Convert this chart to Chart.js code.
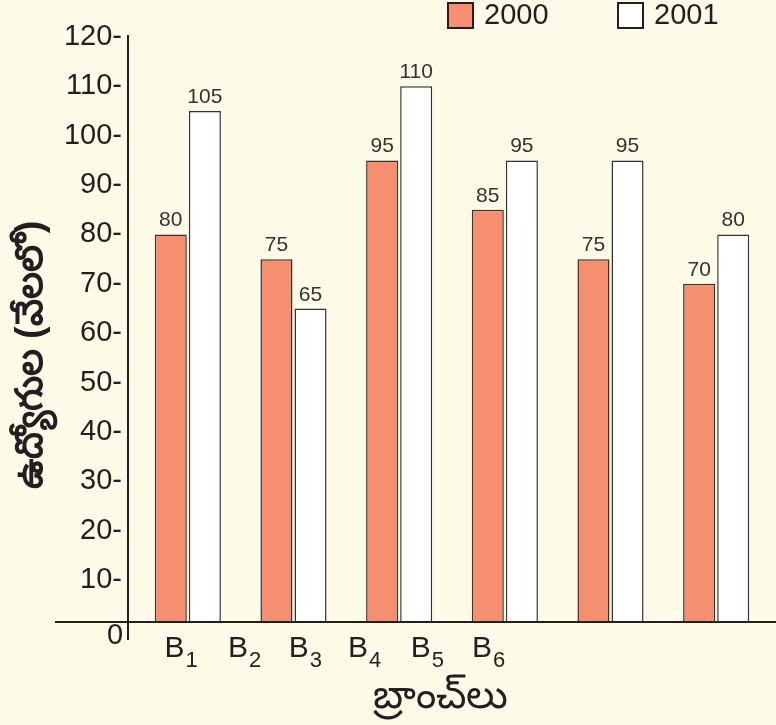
<!DOCTYPE html>
<html>
<head>
<meta charset="utf-8">
<script src="https://cdn.jsdelivr.net/npm/chart.js@4.4.1/dist/chart.umd.min.js"></script>
<style>
  html, body { margin: 0; padding: 0; background: #fefae8; }
  #wrap { width: 776px; height: 725px; }
</style>
</head>
<body>
<div id="wrap"><canvas id="chart" width="776" height="725"></canvas></div>
<script>
// chart data
const branches = ['B1', 'B2', 'B3', 'B4', 'B5', 'B6'];
const series2000 = [80, 75, 95, 85, 75, 70];
const series2001 = [105, 65, 110, 95, 95, 80];
const yTicks = [10, 20, 30, 40, 50, 60, 70, 80, 90, 100, 110, 120];
const branchLabels = [['B', '1'], ['B', '2'], ['B', '3'], ['B', '4'], ['B', '5'], ['B', '6']];
// where the branch labels sit, in category units (they are not under the bars in the original)
const branchLabelSlots = [-0.22, 0.38, 0.955, 1.515, 2.11, 2.69];
const yTitle = 'ఉద్యోగుల (వేలలో)';
const xTitle = 'బ్రాంచ్‌లు';

const INK = '#231f20';
const SALMON = '#f58f70';
const BG = '#fefae8';

// background, axis lines, titles, value labels, branch labels, legend
const decorations = {
  id: 'decorations',
  beforeDraw(chart) {
    const ctx = chart.ctx;
    ctx.save();
    ctx.fillStyle = BG;
    ctx.fillRect(0, 0, chart.width, chart.height);
    ctx.restore();
  },
  afterDatasetsDraw(chart) {
    const ctx = chart.ctx;
    const area = chart.chartArea;
    const x = chart.scales.x;
    ctx.save();

    // axis lines cross each other like in the print
    ctx.strokeStyle = INK;
    ctx.lineWidth = 2;
    ctx.beginPath();
    ctx.moveTo(area.left - 7, area.top - 2);
    ctx.lineTo(area.left - 7, area.bottom + 18);
    ctx.moveTo(55, area.bottom);
    ctx.lineTo(chart.width, area.bottom);
    ctx.stroke();

    // zero label
    ctx.fillStyle = INK;
    ctx.font = '29px "Liberation Sans", Arial, sans-serif';
    ctx.textAlign = 'center';
    ctx.textBaseline = 'middle';
    ctx.fillText('0', area.left - 20, area.bottom + 14);

    // y title, rotated
    ctx.save();
    ctx.translate(32, 355);
    ctx.rotate(-Math.PI / 2);
    ctx.font = 'bold 38px sans-serif';
    ctx.fillText(yTitle, 0, 0);
    ctx.restore();

    // x title
    ctx.font = '40px sans-serif';
    ctx.fillText(xTitle, 440, 697);

    // values above the bars
    ctx.font = '21px "Liberation Sans", Arial, sans-serif';
    ctx.fillStyle = '#333';
    ctx.textBaseline = 'alphabetic';
    chart.data.datasets.forEach((ds, di) => {
      chart.getDatasetMeta(di).data.forEach((bar, i) => {
        ctx.fillText(String(ds.data[i]), bar.x, bar.y - 8);
      });
    });

    // branch labels with subscripts
    ctx.fillStyle = INK;
    ctx.textAlign = 'left';
    branchLabels.forEach((lab, i) => {
      const px = x.getPixelForValue(branchLabelSlots[i]);
      ctx.font = '30px "Liberation Sans", Arial, sans-serif';
      ctx.fillText(lab[0], px, area.bottom + 35);
      const w = ctx.measureText(lab[0]).width;
      ctx.font = '22px "Liberation Sans", Arial, sans-serif';
      ctx.fillText(lab[1], px + w + 1, area.bottom + 45);
    });

    // legend
    let lx = chart.width - 328;
    ctx.font = '29px "Liberation Sans", Arial, sans-serif';
    ctx.textBaseline = 'middle';
    chart.data.datasets.forEach((ds) => {
      ctx.fillStyle = ds.backgroundColor;
      ctx.fillRect(lx, 3, 25, 25);
      ctx.lineWidth = 2;
      ctx.strokeStyle = INK;
      ctx.strokeRect(lx, 3, 25, 25);
      ctx.fillStyle = INK;
      ctx.fillText(ds.label, lx + 36, 16);
      lx += 170;
    });

    ctx.restore();
  }
};

new Chart(document.getElementById('chart'), {
  type: 'bar',
  data: {
    labels: branches,
    datasets: [
      {
        label: '2000',
        data: series2000,
        backgroundColor: SALMON,
        borderColor: '#333',
        borderWidth: 1.5,
        categoryPercentage: 0.645,
        barPercentage: 0.94
      },
      {
        label: '2001',
        data: series2001,
        backgroundColor: '#ffffff',
        borderColor: '#333',
        borderWidth: 1.5,
        categoryPercentage: 0.645,
        barPercentage: 0.94
      }
    ]
  },
  options: {
    responsive: false,
    animation: false,
    layout: { padding: { top: 37, right: 7, left: 0, bottom: 0 } },
    plugins: {
      legend: { display: false },
      tooltip: { enabled: false }
    },
    scales: {
      x: {
        grid: { display: false },
        border: { display: false },
        ticks: { display: false },
        afterFit(scale) { scale.height = 103; }
      },
      y: {
        min: 1.5,
        max: 120,
        grid: { display: false, drawTicks: false },
        border: { display: false },
        afterBuildTicks(scale) { scale.ticks = yTicks.map(v => ({ value: v })); },
        afterFit(scale) { scale.width = 135; },
        ticks: {
          padding: 13,
          color: INK,
          font: { size: 29, family: '"Liberation Sans", Arial, sans-serif' },
          callback: v => v + '-'
        }
      }
    }
  },
  plugins: [decorations]
});
</script>
</body>
</html>
